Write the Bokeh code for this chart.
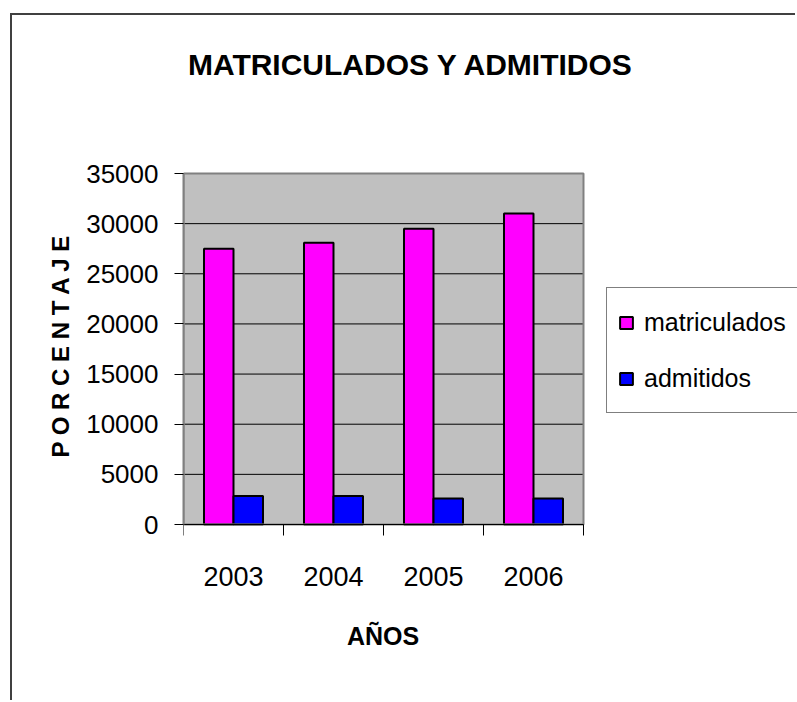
from bokeh.plotting import figure
from bokeh.models import FixedTicker, Legend, LegendItem, Range1d, ColumnDataSource, Label
from bokeh.transform import dodge
from bokeh.embed import file_html
from bokeh.resources import INLINE

# ---- data ----
years = ["2003", "2004", "2005", "2006"]
matriculados = [27500, 28100, 29500, 31000]
admitidos = [2850, 2850, 2600, 2600]
y_ticks = [0, 5000, 10000, 15000, 20000, 25000, 30000, 35000]
title_text = "MATRICULADOS Y ADMITIDOS"
x_title = "AÑOS"
y_title = "P O R C E N T A J E"

FONT = "Liberation Sans"

# ---- layout geometry (pixels on the canvas) ----
W, H = 785, 687
LEFT = 171                  # left panel width
FRAME_BOTTOM = 660          # frame bottom, px from canvas top
PLOT_W, PLOT_H = 400, 351   # visible grey plot area
PLOT_TOP = 158              # grey area top, px from canvas top
y_max = y_ticks[-1]
n = len(years)
frame_w = W - LEFT
plot_bottom = PLOT_TOP + PLOT_H
x_end = n * frame_w / PLOT_W
y_end = plot_bottom * y_max / PLOT_H
y_start = -(FRAME_BOTTOM - plot_bottom) * y_max / PLOT_H


def px_to_x(px):            # px from frame left -> data x
    return px * n / PLOT_W


def py_to_y(py):            # px from canvas top -> data y
    return (plot_bottom - py) * y_max / PLOT_H


xc = [i + 0.5 for i in range(n)]
src = ColumnDataSource(dict(x=xc, m=matriculados, a=admitidos))

p = figure(width=W, height=H, output_backend="svg", toolbar_location=None, title=None,
           x_range=Range1d(0, x_end), y_range=Range1d(y_start, y_end),
           min_border_left=LEFT, min_border_right=0, min_border_top=0,
           min_border_bottom=H - FRAME_BOTTOM)
p.styles = {"border-left": "2px solid #404040", "border-top": "2px solid #404040",
            "margin-left": "10px", "margin-top": "13px"}

p.background_fill_color = "white"
p.border_fill_color = "white"
p.outline_line_color = None
p.xgrid.grid_line_color = None
p.ygrid.grid_line_color = None

# grey plot area
p.quad(left=0, right=n, bottom=0, top=y_max, fill_color="#C0C0C0", line_color=None)
# horizontal gridlines
p.segment(x0=[0] * len(y_ticks), x1=[n] * len(y_ticks), y0=y_ticks, y1=y_ticks,
          line_color="black", line_width=1)

bw = 0.295
r1 = p.vbar(x=dodge("x", -bw / 2, range=p.x_range), top="m", width=bw, source=src,
            fill_color="#FF00FF", line_color="black", line_width=2)
r2 = p.vbar(x=dodge("x", bw / 2, range=p.x_range), top="a", width=bw, source=src,
            fill_color="#0000FF", line_color="black", line_width=2)

# plot-area border
p.quad(left=0, right=n, bottom=0, top=y_max, fill_color=None,
       line_color="#808080", line_width=2)

# y axis
p.yaxis.bounds = (0, y_max)
p.yaxis.ticker = FixedTicker(ticks=y_ticks)
p.yaxis.major_tick_out = 9
p.yaxis.major_tick_in = 0
p.yaxis.minor_tick_line_color = None
p.yaxis.axis_line_color = "#808080"
p.yaxis.axis_line_width = 2
p.yaxis.major_tick_line_color = "black"
p.yaxis.major_label_standoff = 16
p.yaxis.major_label_text_font = FONT
p.yaxis.major_label_text_font_size = "26px"
p.yaxis.major_label_text_color = "black"
p.yaxis.axis_label = y_title
p.yaxis.axis_label_text_font = FONT
p.yaxis.axis_label_text_font_style = "bold"
p.yaxis.axis_label_text_font_size = "24px"
p.yaxis.axis_label_text_color = "black"
p.yaxis.axis_label_standoff = 9

# x axis, placed at y = 0 inside the frame
p.xaxis.fixed_location = 0
p.xaxis.bounds = (0, n)
p.xaxis.ticker = FixedTicker(ticks=xc, minor_ticks=list(range(n + 1)))
p.xaxis.major_label_overrides = {x: y for x, y in zip(xc, years)}
p.xaxis.major_tick_line_color = None
p.xaxis.major_tick_out = 0
p.xaxis.major_tick_in = 0
p.xaxis.minor_tick_out = 11
p.xaxis.minor_tick_in = 0
p.xaxis.minor_tick_line_color = "black"
p.xaxis.axis_line_color = "black"
p.xaxis.axis_line_width = 1
p.xaxis.major_label_standoff = 31
p.xaxis.major_label_text_font = FONT
p.xaxis.major_label_text_font_size = "27px"
p.xaxis.major_label_text_color = "black"

# x-axis title
p.add_layout(Label(x=px_to_x(370.5 - LEFT), y=py_to_y(620), text=x_title,
                   text_align="center", text_baseline="alphabetic",
                   text_font=FONT, text_font_style="bold", text_font_size="25px",
                   text_color="black"))

# chart title
p.add_layout(Label(x=px_to_x(398.5 - LEFT), y=py_to_y(49), text=title_text,
                   text_align="center", text_baseline="alphabetic",
                   text_font=FONT, text_font_style="bold", text_font_size="30px",
                   text_color="black"))

# legend (location measured from the frame's bottom-left corner)
legend = Legend(items=[LegendItem(label="matriculados", renderers=[r1]),
                       LegendItem(label="admitidos", renderers=[r2])],
                location=(423, FRAME_BOTTOM - 398))
legend.label_text_font = FONT
legend.label_text_font_size = "25px"
legend.label_text_color = "black"
legend.glyph_width = 16
legend.glyph_height = 15
legend.label_height = 46
legend.spacing = 10
legend.padding = 11
legend.margin = 0
legend.label_standoff = 10
legend.border_line_color = "black"
legend.border_line_width = 1
legend.background_fill_color = "white"
legend.background_fill_alpha = 1
p.add_layout(legend)

open("out.html", "w").write(file_html(p, INLINE))
